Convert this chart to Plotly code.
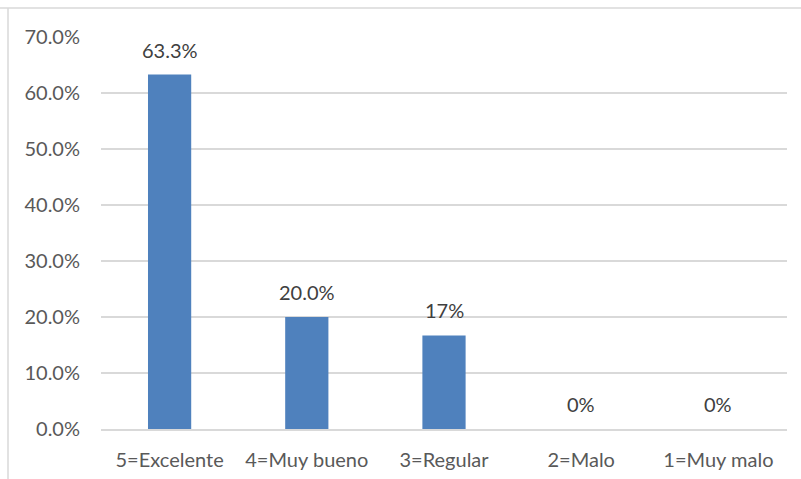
import plotly.graph_objects as go

categories = ["5=Excelente", "4=Muy bueno", "3=Regular", "2=Malo", "1=Muy malo"]
values = [63.3, 20.0, 16.7, 0.0, 0.0]
value_labels = ["63.3%", "20.0%", "17%", "0%", "0%"]
tick_vals = [0, 10, 20, 30, 40, 50, 60, 70]
tick_text = ["0.0%", "10.0%", "20.0%", "30.0%", "40.0%", "50.0%", "60.0%", "70.0%"]

font_family = "Lato, 'Open Sans', sans-serif"
text_color = "#595959"
font_size = 20

fig = go.Figure(
    go.Bar(
        x=categories,
        y=values,
        marker=dict(color="#4F81BD", line=dict(width=0)),
        hoverinfo="skip",
    )
)

# value labels above each bar
for cat, val, lab in zip(categories, values, value_labels):
    fig.add_annotation(
        x=cat, y=val, text=lab, showarrow=False,
        yanchor="bottom", yshift=11,
        font=dict(family=font_family, size=font_size, color="#404040"),
    )

fig.update_layout(
    width=801,
    height=479,
    margin=dict(l=101, r=14, t=37, b=50),
    paper_bgcolor="white",
    plot_bgcolor="white",
    bargap=0.685,
    showlegend=False,
    font=dict(family=font_family, size=font_size, color=text_color),
    xaxis=dict(
        automargin=False,
        showgrid=False,
        showline=True,
        linecolor="#D9D9D9",
        linewidth=1.5,
        ticks="",
        ticklabelstandoff=12,
        tickfont=dict(family=font_family, size=font_size, color=text_color),
    ),
    yaxis=dict(
        automargin=False,
        range=[0, 70],
        tickvals=tick_vals,
        ticktext=tick_text,
        showgrid=True,
        gridcolor="#D9D9D9",
        gridwidth=1.5,
        zeroline=False,
        showline=False,
        ticks="",
        ticklen=0,
        ticklabelstandoff=20,
        tickfont=dict(family=font_family, size=font_size, color=text_color),
    ),
    shapes=[
        # chart frame (top and left edges visible)
        dict(type="line", xref="paper", yref="paper", x0=-101 / 686, x1=1.1,
             y0=1 + 29 / 392, y1=1 + 29 / 392, line=dict(color="#D9D9D9", width=1.5)),
        dict(type="line", xref="paper", yref="paper", x0=-93 / 686, x1=-93 / 686,
             y0=1 + 29 / 392, y1=-0.2, line=dict(color="#D9D9D9", width=1.5)),
    ],
)

fig.write_html("out.html")
